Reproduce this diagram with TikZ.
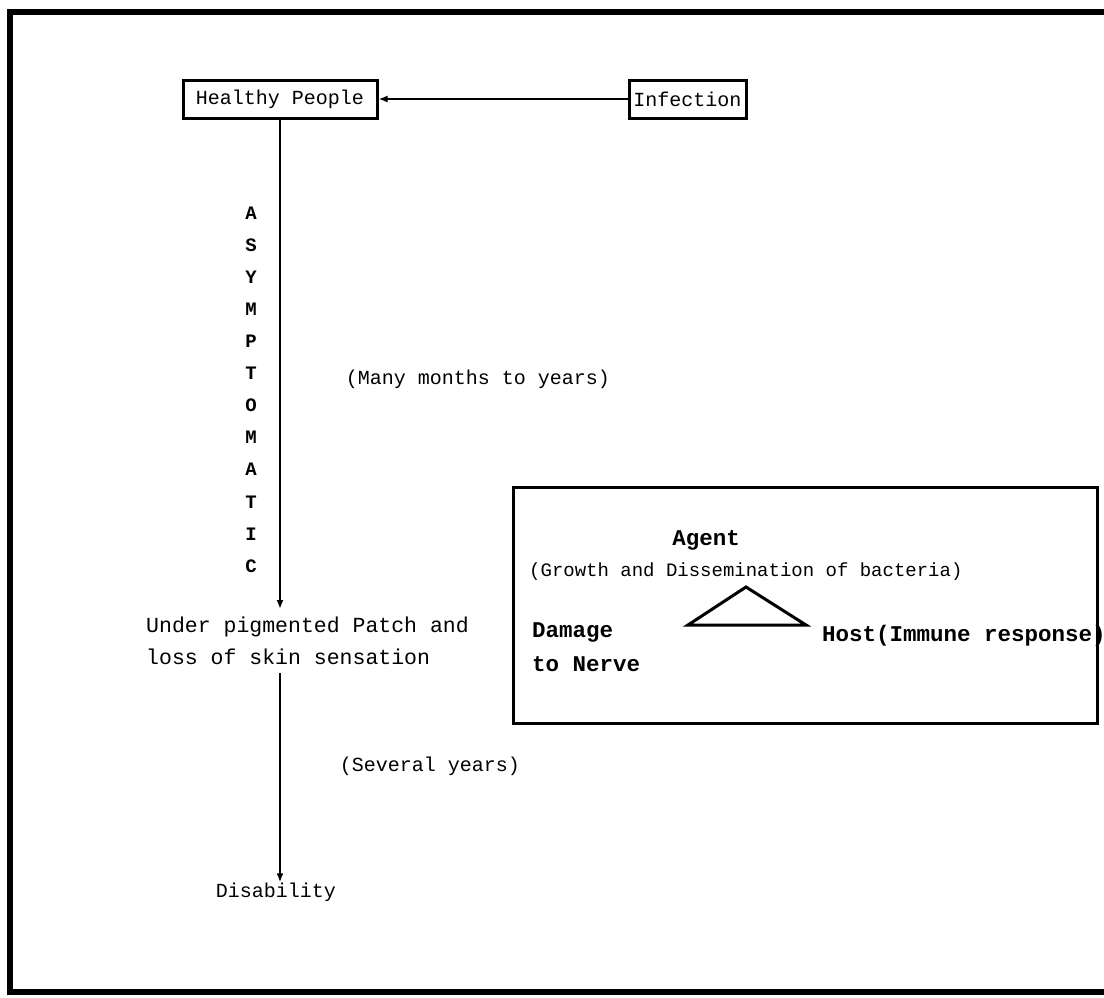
\documentclass[tikz,border=0pt]{standalone}
\usepackage{fontspec}
\usepackage{tikz}
\usetikzlibrary{arrows.meta}
\setmonofont{Liberation Mono}

\tikzset{
    txt/.style={font=\ttfamily\fontsize{20}{32}\selectfont, inner sep=0pt},
    bold/.style={font=\ttfamily\bfseries\fontsize{22.5}{34}\selectfont, inner sep=0pt},
    stagebox/.style={draw, line width=3pt, minimum height=38pt, inner sep=2pt,
        font=\ttfamily\fontsize{20}{24}\selectfont},
}

\begin{document}
\begin{tikzpicture}[x=1pt, y=-1pt, >={Latex[length=9pt,width=7pt]}]
            \useasboundingbox (0,0) rectangle (1104,997);

            % Outer frame (open on the right)
            \draw[line width=6pt] (1104,12) -- (10,12) -- (10,992) -- (1104,992);

            % Top boxes
            \node[stagebox, minimum width=194pt] (Healthy) at (280,99) {Healthy People};
            \node[stagebox, minimum width=117pt] (Infection) at (687.5,99) {Infection};
            \draw[->, line width=2.5pt] (Infection) -- (Healthy);

            % Asymptomatic letters
            \foreach \l [count=\i] in {A,S,Y,M,P,T,O,M,A,T,I,C}
            {
                \node[bold, font=\ttfamily\bfseries\fontsize{19}{20}\selectfont, anchor=base] (Asym-\i) at (251,{187+\i*32.1}) {\l};
            }
            \node[txt, anchor=base] (Months) at (478,384) {(Many months to years)};

            % Patch
            \node[txt, anchor=north west, align=left, inner ysep=8pt, font=\ttfamily\fontsize{21.5}{32}\selectfont] (Patch) at (146,609)
                {Under pigmented Patch and\\loss of skin sensation};
            \node[txt, anchor=base] (Several) at (430,771) {(Several years)};
            \node[txt, anchor=base] (Disability) at (276,897) {Disability};

            % Connections down the left
            \draw[->, line width=2.5pt] (Healthy.south) -- (Healthy.south |- Patch.north);
            \draw[->, line width=2.5pt] (Healthy.south |- Patch.south) -- (Healthy.south |- Disability.north);

            % Agent - host - nerve box
            \node[draw, line width=3pt, minimum width=584pt, minimum height=236pt] (Triad) at (805,605) {};
            \node[bold, anchor=base] (Agent) at (706,545) {Agent};
            \node[txt, anchor=base west, font=\ttfamily\fontsize{19}{24}\selectfont] (Growth) at (529,576) {(Growth and Dissemination of bacteria)};
            \node[bold, anchor=north west, align=left] (Damage) at (532,622) {Damage\\to Nerve};
            \node[bold, anchor=base west] (Host) at (822,641) {Host(Immune response)};

            % Triangle
            \draw[line width=3pt, line join=miter] (688,625) -- (746,587) -- (806,625) -- cycle;

        \end{tikzpicture}
\end{document}
